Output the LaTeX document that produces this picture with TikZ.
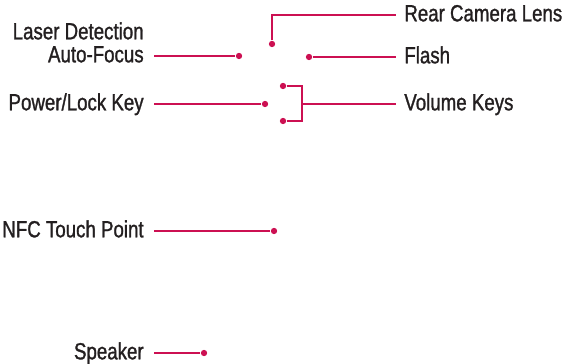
\documentclass[tikz,border=0pt]{standalone}
\usepackage{fontspec}
\setmainfont{Liberation Sans}[FakeStretch=0.8, FakeBold=1.2]
\usetikzlibrary{positioning}
\definecolor{leadred}{RGB}{204,16,82}
\definecolor{labelgray}{RGB}{35,31,32}
\tikzset{
  lead/.style={draw=leadred, line width=0.9pt},
  dot/.style={circle, fill=leadred, inner sep=0pt, minimum size=3.6pt},
  lefttext/.style={anchor=east, inner xsep=0.2cm, inner ysep=0pt, text=labelgray, font=\fontsize{13.3}{15}\selectfont, text height=0.72em, text depth=0pt},
  righttext/.style={anchor=west, inner xsep=0.16cm, inner ysep=0pt, text=labelgray, font=\fontsize{13.3}{15}\selectfont, text height=0.72em, text depth=0pt}
}
\begin{document}
\begin{tikzpicture}[x=0.02cm, y=-0.02cm]
  \useasboundingbox (0,0) rectangle (564,364);

  % labels on the left
  \node[lefttext] (laserText) at (154,33) {Laser Detection};
  \node[lefttext] (afText)    at (154,56) {Auto-Focus};
  \node[lefttext] (powerText) at (154,104) {Power/Lock Key};
  \node[lefttext] (nfcText)   at (154,231) {NFC Touch Point};
  \node[lefttext] (spkText)   at (154,353) {Speaker};

  % labels on the right
  \node[righttext] (camText)   at (396,15) {Rear Camera Lens};
  \node[righttext] (flashText) at (396,57) {Flash};
  \node[righttext] (volText)   at (396,104) {Volume Keys};

  % the points
  \node[dot] (afDot)    at (239,56) {};
  \node[dot] (powerDot) at (265,104) {};
  \node[dot] (nfcDot)   at (274,231) {};
  \node[dot] (spkDot)   at (204,353) {};
  \node[dot] (camDot)   at (272,44) {};
  \node[dot] (flashDot) at (309,57) {};
  \node[dot] (volUp)    at (283,86) {};
  \node[dot] (volDown)  at (283,121) {};
  \coordinate (volJoin) at (302,104);

  % leader lines
  \draw[lead] (afText.east) -- (afDot);
  \draw[lead] (powerText.east) -- (powerDot);
  \draw[lead] (nfcText.east) -- (nfcDot);
  \draw[lead] (spkText.east) -- (spkDot);
  \draw[lead] (camDot) |- (camText.west);
  \draw[lead] (flashDot) -- (flashText.west);
  \draw[lead] (volUp) -| (volJoin);
  \draw[lead] (volDown) -| (volJoin);
  \draw[lead] (volJoin) -- (volText.west);
\end{tikzpicture}
\end{document}
